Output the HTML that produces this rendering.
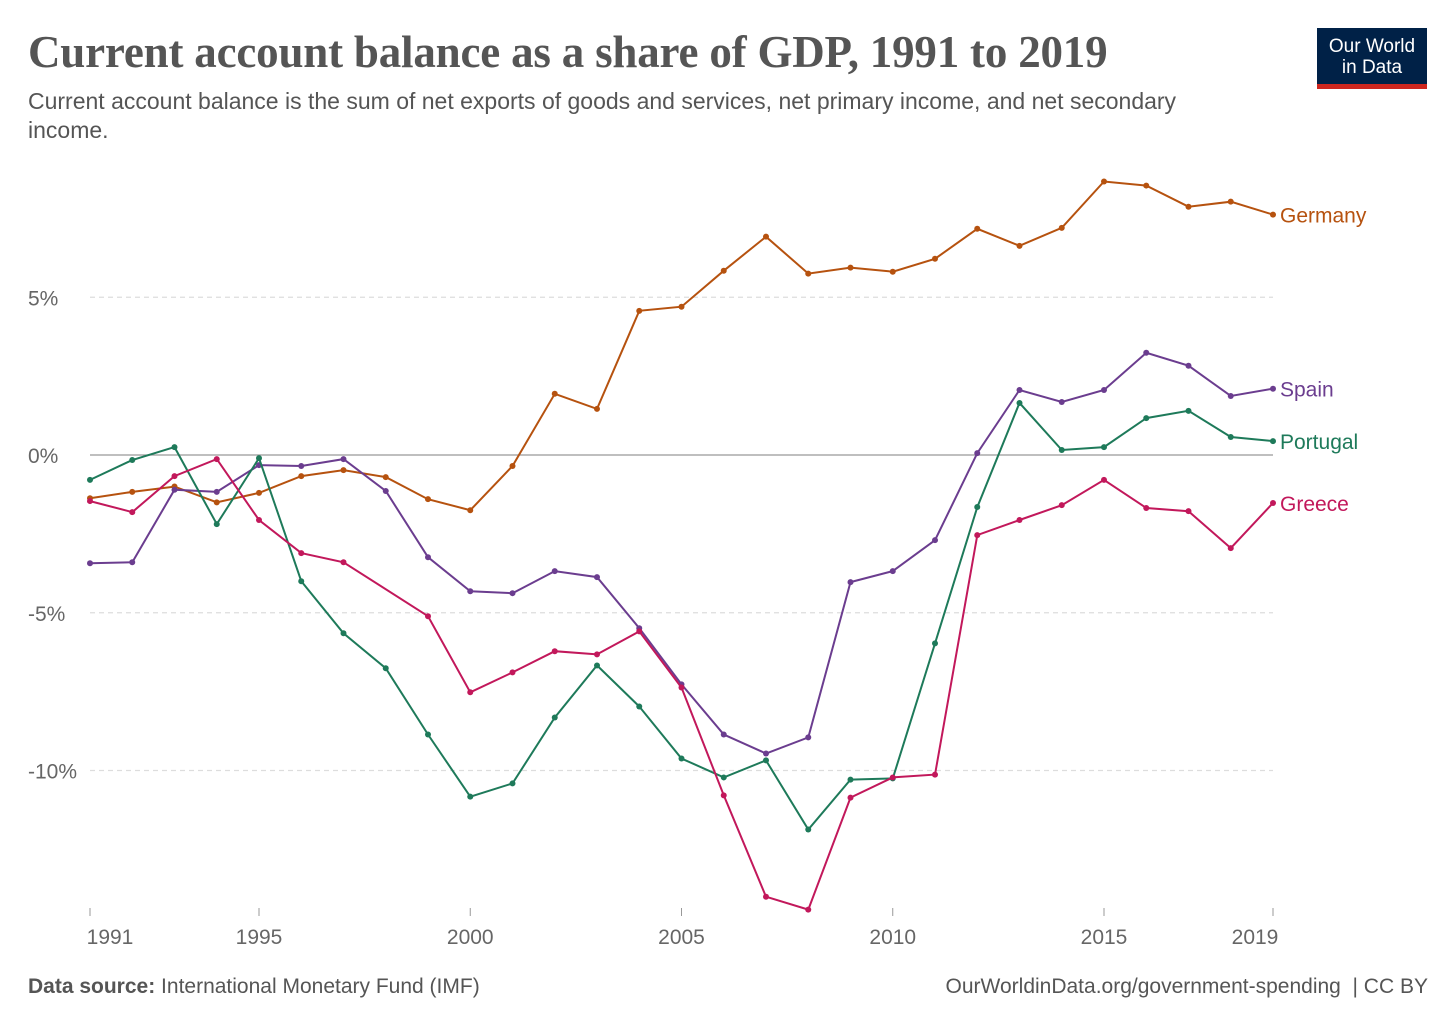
<!DOCTYPE html>
<html><head><meta charset="utf-8"><style>
body{margin:0;background:#fff;font-family:"Liberation Sans",sans-serif;}
#wrap{position:relative;width:1456px;height:1028px;overflow:hidden}
.title{position:absolute;left:28px;top:26px;font-family:"Liberation Serif",serif;font-weight:bold;font-size:45px;color:#555;letter-spacing:-0.2px}
.sub{position:absolute;left:28px;top:87px;font-size:23px;color:#555;line-height:29px;width:1230px}
.logo{position:absolute;left:1317px;top:28px;width:110px;height:61px;background:#002147;color:#fff;font-size:19px;text-align:center;line-height:21px;padding-top:8px;box-sizing:border-box;border-bottom:5px solid #ce261e}
.foot{position:absolute;top:975px;font-size:21px;color:#555}
</style></head><body>
<div id="wrap">
<div class="title">Current account balance as a share of GDP, 1991 to 2019</div>
<div class="sub">Current account balance is the sum of net exports of goods and services, net primary income, and net secondary income.</div>
<div class="logo">Our World<br>in Data</div>
<svg id="svg" width="1456" height="1028" style="position:absolute;left:0;top:0"></svg>
<div class="foot" style="left:28px"><b>Data source:</b> International Monetary Fund (IMF)</div>
<div class="foot" style="right:28px">OurWorldinData.org/government-spending &nbsp;| CC BY</div>
</div>
<script>
const years=[1991,1992,1993,1994,1995,1996,1997,1998,1999,2000,2001,2002,2003,2004,2005,2006,2007,2008,2009,2010,2011,2012,2013,2014,2015,2016,2017,2018,2019];
const germany=[-1.37,-1.17,-1.0,-1.5,-1.2,-0.67,-0.48,-0.7,-1.4,-1.75,-0.35,1.94,1.46,4.57,4.7,5.84,6.92,5.75,5.94,5.81,6.22,7.17,6.63,7.2,8.67,8.54,7.87,8.03,7.62];
const spain=[-3.43,-3.4,-1.1,-1.17,-0.32,-0.35,-0.13,-1.14,-3.24,-4.32,-4.38,-3.68,-3.87,-5.49,-7.27,-8.86,-9.46,-8.95,-4.03,-3.68,-2.7,0.06,2.06,1.68,2.06,3.24,2.83,1.87,2.1];
const portugal=[-0.79,-0.16,0.25,-2.19,-0.1,-4.0,-5.65,-6.76,-8.86,-10.83,-10.41,-8.32,-6.67,-7.97,-9.62,-10.22,-9.68,-11.87,-10.29,-10.25,-5.97,-1.65,1.65,0.16,0.25,1.17,1.4,0.57,0.44];
const greece=[-1.46,-1.81,-0.67,-0.13,-2.06,-3.11,-3.4,null,-5.11,-7.52,-6.89,-6.22,-6.32,-5.59,-7.37,-10.79,-14.0,-14.41,-10.86,-10.22,-10.13,-2.54,-2.06,-1.59,-0.79,-1.68,-1.78,-2.95,-1.52];
const yTicks=[5,0,-5,-10];
const xTicks=[1991,1995,2000,2005,2010,2015,2019];
const series=[["Germany",germany,"#b6520f"],["Spain",spain,"#6b3d8f"],["Portugal",portugal,"#1e7a5a"],["Greece",greece,"#c2185b"]];
const X=y=>90+(y-1991)*(1273-90)/28;
const Y=v=>455-v*31.55;
const svg=document.getElementById('svg');const NS='http://www.w3.org/2000/svg';
function mk(t,a,p){const e=document.createElementNS(NS,t);for(const k in a)e.setAttribute(k,a[k]);(p||svg).appendChild(e);return e;}
yTicks.forEach(v=>{
 const l=mk('line',{x1:90,x2:1273,y1:Y(v),y2:Y(v),stroke:v===0?'#999':'#ddd','stroke-dasharray':v===0?'':'5,4','stroke-width':1.2});
 
 
 const t=mk('text',{x:28,y:Y(v)+8,'font-size':21,fill:'#666'});t.textContent=v+'%';
 
 
});
xTicks.forEach(y=>{
 const l=mk('line',{x1:X(y),x2:X(y),y1:908,y2:916,stroke:'#999'});
 
 
 const t=mk('text',{x:X(y)+(y===1991?20:y===2019?-18:0),y:944,'font-size':21,fill:'#666','text-anchor':'middle'});t.textContent=y;
 
 
});
series.forEach(([name,vals,c])=>{
 let d='';vals.forEach((v,i)=>{if(v===null)return;d+=(d?'L':'M')+X(years[i]).toFixed(1)+','+Y(v).toFixed(1);});
 const p=mk('path',{d:d,fill:'none',stroke:c,'stroke-width':2});
 
 
 vals.forEach((v,i)=>{if(v===null)return;const ci=mk('circle',{cx:X(years[i]),cy:Y(v),r:3,fill:c});
  
  });
 const last=vals[vals.length-1];
 const t=mk('text',{x:1280,y:Y(last)+8,'font-size':21,fill:c});t.textContent=name;
 
 
});
</script>
</body></html>
